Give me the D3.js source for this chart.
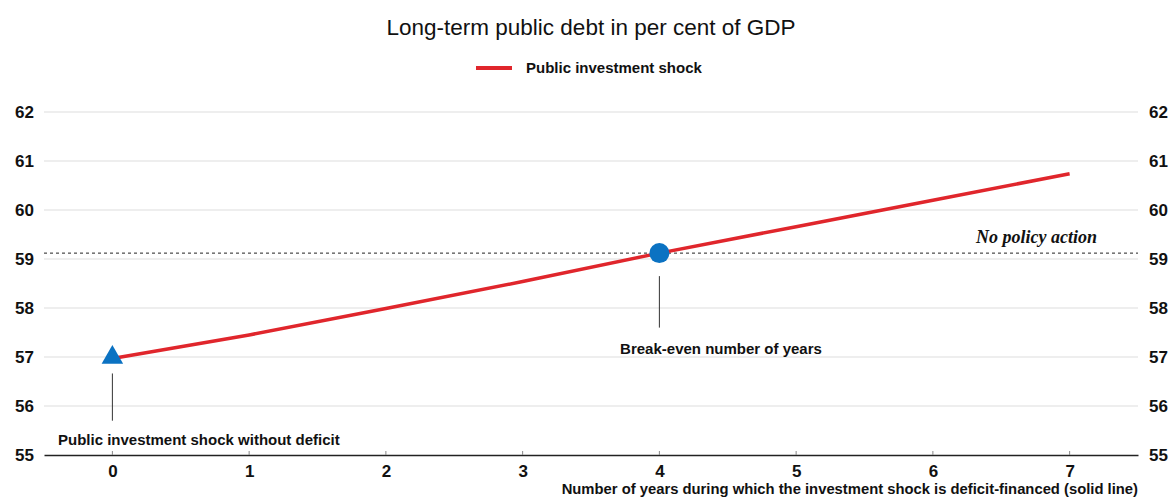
<!DOCTYPE html>
<html lang="en">
<head>
    <meta charset="UTF-8">
    <title>Long-term public debt</title>
    <script src="https://d3js.org/d3.v7.min.js"></script>
    <style>
        body { margin: 0; background: #fff; }
        svg text { font-family: "Liberation Sans", Arial, sans-serif; }
    </style>
</head>
<body>
    <script>
    // data
    var years = [0, 1, 2, 3, 4, 5, 6, 7];
    var debt = [56.97, 57.45, 57.99, 58.54, 59.12, 59.66, 60.2, 60.74];
    var yTicks = [55, 56, 57, 58, 59, 60, 61, 62];
    var noPolicy = 59.12;
    var breakEvenYear = 4;

    var w = 1172, h = 497;
    var svg = d3.select("body").append("svg")
        .attr("width", w)
        .attr("height", h);

    var x = d3.scaleLinear().domain([-0.5, 7.5]).range([44, 1138]);
    var y = d3.scaleLinear().domain([55, 62]).range([455, 112]);

    // title
    svg.append("text")
        .attr("x", 591).attr("y", 35)
        .attr("text-anchor", "middle")
        .style("font-size", "22.5px")
        .attr("fill", "#111")
        .text("Long-term public debt in per cent of GDP");

    // legend
    svg.append("line")
        .attr("x1", 476).attr("x2", 512)
        .attr("y1", 68).attr("y2", 68)
        .attr("stroke", "#e0262c").attr("stroke-width", 4);
    svg.append("text")
        .attr("x", 526).attr("y", 73)
        .style("font-size", "15px").style("font-weight", "bold")
        .attr("fill", "#111")
        .text("Public investment shock");

    // gridlines
    svg.selectAll(".grid")
        .data(yTicks.filter(function(d) { return d > 55; }))
        .enter().append("line")
        .attr("x1", 44).attr("x2", 1138)
        .attr("y1", function(d) { return y(d); })
        .attr("y2", function(d) { return y(d); })
        .attr("stroke", "#dedede").attr("stroke-width", 1.2);

    // left & right tick labels
    svg.selectAll(".yl")
        .data(yTicks).enter().append("text")
        .attr("x", 34).attr("y", function(d) { return y(d) + 6; })
        .attr("text-anchor", "end")
        .style("font-size", "17px").style("font-weight", "bold")
        .attr("fill", "#111")
        .text(function(d) { return d; });
    svg.selectAll(".yr")
        .data(yTicks).enter().append("text")
        .attr("x", 1149).attr("y", function(d) { return y(d) + 6; })
        .style("font-size", "17px").style("font-weight", "bold")
        .attr("fill", "#111")
        .text(function(d) { return d; });

    // x axis
    var xAxis = d3.axisBottom(x).tickValues(years).tickSize(0).tickPadding(10)
        .tickFormat(d3.format("d"));
    var gx = svg.append("g")
        .attr("transform", "translate(0," + y(55) + ")")
        .call(xAxis);
    gx.select(".domain").attr("stroke", "#222").attr("stroke-width", 1.5);
    gx.selectAll("text")
        .style("font-size", "17px").style("font-weight", "bold")
        .style("font-family", "Liberation Sans, Arial, sans-serif")
        .attr("fill", "#111");
    svg.selectAll(".xt")
        .data(years).enter().append("line")
        .attr("x1", function(d) { return x(d); })
        .attr("x2", function(d) { return x(d); })
        .attr("y1", y(55)).attr("y2", y(55) - 4)
        .attr("stroke", "#888");

    svg.append("text")
        .attr("x", 1138).attr("y", 494)
        .attr("text-anchor", "end")
        .style("font-size", "14.8px").style("font-weight", "bold")
        .attr("fill", "#111")
        .text("Number of years during which the investment shock is deficit-financed (solid line)");

    // no policy action dashed line
    svg.append("line")
        .attr("x1", 44).attr("x2", 1138)
        .attr("y1", y(noPolicy)).attr("y2", y(noPolicy))
        .attr("stroke", "#222").attr("stroke-width", 1)
        .attr("stroke-dasharray", "3,3");
    svg.append("text")
        .attr("x", 1097).attr("y", y(noPolicy) - 10)
        .attr("text-anchor", "end")
        .style("font-family", "Liberation Serif, Times New Roman, serif")
        .style("font-style", "italic").style("font-weight", "bold")
        .style("font-size", "18px")
        .attr("fill", "#111")
        .text("No policy action");

    // main line
    var line = d3.line()
        .x(function(d, i) { return x(years[i]); })
        .y(function(d) { return y(d); });
    svg.append("path")
        .datum(debt)
        .attr("d", line)
        .attr("fill", "none")
        .attr("stroke", "#e0262c")
        .attr("stroke-width", 3.5);

    // annotation leaders
    svg.append("line")
        .attr("x1", x(0)).attr("x2", x(0))
        .attr("y1", y(debt[0]) + 15).attr("y2", y(55.7))
        .attr("stroke", "#333").attr("stroke-width", 1);
    svg.append("line")
        .attr("x1", x(breakEvenYear)).attr("x2", x(breakEvenYear))
        .attr("y1", y(debt[breakEvenYear]) + 23).attr("y2", y(57.6))
        .attr("stroke", "#333").attr("stroke-width", 1);

    // markers
    svg.append("path")
        .attr("d", d3.symbol().type(d3.symbolTriangle).size(200))
        .attr("transform", "translate(" + x(0) + "," + (y(debt[0]) - 1) + ")")
        .attr("fill", "#0b72c2");
    svg.append("circle")
        .attr("cx", x(breakEvenYear)).attr("cy", y(debt[breakEvenYear]))
        .attr("r", 10)
        .attr("fill", "#0b72c2");

    svg.append("text")
        .attr("x", 58).attr("y", 445)
        .style("font-size", "15px").style("font-weight", "bold")
        .attr("fill", "#111")
        .text("Public investment shock without deficit");
    svg.append("text")
        .attr("x", 721).attr("y", 354)
        .attr("text-anchor", "middle")
        .style("font-size", "15px").style("font-weight", "bold")
        .attr("fill", "#111")
        .text("Break-even number of years");
    </script>
</body>
</html>
